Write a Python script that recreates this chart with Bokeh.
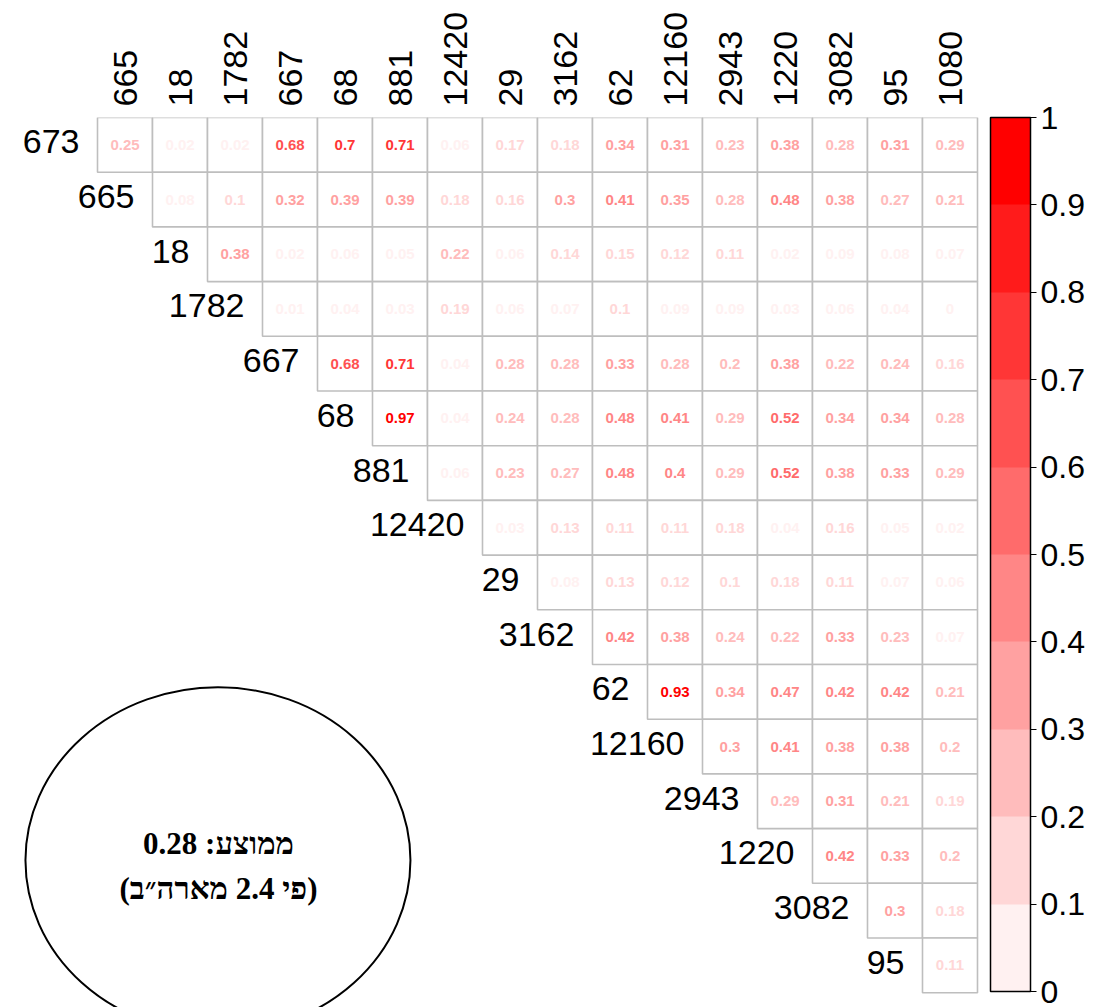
from bokeh.plotting import figure
from bokeh.models import (Range1d, FixedTicker, ColorBar, LinearColorMapper,
                          ColumnDataSource, CustomJSTickFormatter)
from bokeh.core.properties import value
from bokeh.embed import file_html
from bokeh.resources import INLINE

# ---------------- data ----------------
col_labels = ["665", "18", "1782", "667", "68", "881", "12420", "29", "3162",
              "62", "12160", "2943", "1220", "3082", "95", "1080"]
row_labels = ["673", "665", "18", "1782", "667", "68", "881", "12420", "29",
              "3162", "62", "12160", "2943", "1220", "3082", "95"]

r_673 = [0.25, 0.02, 0.02, 0.68, 0.7, 0.71, 0.06, 0.17, 0.18, 0.34, 0.31, 0.23, 0.38, 0.28, 0.31, 0.29]
r_665 = [0.08, 0.1, 0.32, 0.39, 0.39, 0.18, 0.16, 0.3, 0.41, 0.35, 0.28, 0.48, 0.38, 0.27, 0.21]
r_18 = [0.38, 0.02, 0.06, 0.05, 0.22, 0.06, 0.14, 0.15, 0.12, 0.11, 0.02, 0.09, 0.08, 0.07]
r_1782 = [0.01, 0.04, 0.03, 0.19, 0.06, 0.07, 0.1, 0.09, 0.09, 0.03, 0.06, 0.04, 0]
r_667 = [0.68, 0.71, 0.04, 0.28, 0.28, 0.33, 0.28, 0.2, 0.38, 0.22, 0.24, 0.16]
r_68 = [0.97, 0.04, 0.24, 0.28, 0.48, 0.41, 0.29, 0.52, 0.34, 0.34, 0.28]
r_881 = [0.06, 0.23, 0.27, 0.48, 0.4, 0.29, 0.52, 0.38, 0.33, 0.29]
r_12420 = [0.03, 0.13, 0.11, 0.11, 0.18, 0.04, 0.16, 0.05, 0.02]
r_29 = [0.08, 0.13, 0.12, 0.1, 0.18, 0.11, 0.07, 0.06]
r_3162 = [0.42, 0.38, 0.24, 0.22, 0.33, 0.23, 0.07]
r_62 = [0.93, 0.34, 0.47, 0.42, 0.42, 0.21]
r_12160 = [0.3, 0.41, 0.38, 0.38, 0.2]
r_2943 = [0.29, 0.31, 0.21, 0.19]
r_1220 = [0.42, 0.33, 0.2]
r_3082 = [0.3, 0.18]
r_95 = [0.11]

row_values = [r_673, r_665, r_18, r_1782, r_667, r_68, r_881, r_12420, r_29,
              r_3162, r_62, r_12160, r_2943, r_1220, r_3082, r_95]

cbar_ticks = [0, 0.1, 0.2, 0.3, 0.4, 0.5, 0.6, 0.7, 0.8, 0.9, 1]
palette = ["#FFF1F1", "#FFD7D7", "#FFBCBC", "#FFA1A1", "#FF8686",
           "#FF6B6B", "#FF5151", "#FF3636", "#FF1B1B", "#FF0000"]

note_lines = ["ממוצע: 0.28", "(פי 2.4 מארה״ב)"]

# ---------------- layout ----------------
W, H = 1094, 1007
TOP = 117
CELL_W, CELL_H = 55.0, 54.7
X0 = 97  # px of first column inside the frame
x_start = -X0 / CELL_W
x_end = x_start + W / CELL_W
y_bottom = (H - TOP) / CELL_H

p = figure(width=W, height=H, x_range=Range1d(x_start, x_end),
           y_range=Range1d(y_bottom, 0), output_backend="svg",
           toolbar_location=None, x_axis_location="above",
           y_axis_location=None, min_border_left=0, min_border_right=0,
           min_border_bottom=0, min_border_top=TOP)
p.grid.visible = False
p.outline_line_color = None
p.background_fill_color = "white"
p.border_fill_color = "white"

font = "Liberation Sans"

# cells
lefts, rights, tops, bottoms, xs, ys, txt, tcol = [], [], [], [], [], [], [], []
for i, vals in enumerate(row_values):
    for k, v in enumerate(vals):
        j = i + k
        lefts.append(j); rights.append(j + 1)
        tops.append(i); bottoms.append(i + 1)
        xs.append(j + 0.5); ys.append(i + 0.5)
        txt.append(f"{v:g}")
        b = min(int(v * 10 + 1e-9), 9)
        tcol.append(palette[b])

src = ColumnDataSource(dict(left=lefts, right=rights, top=tops, bottom=bottoms,
                            x=xs, y=ys, text=txt, color=tcol))
p.quad(left="left", right="right", top="top", bottom="bottom", source=src,
       fill_color="white", line_color="#BEBEBE", line_width=1.6)
p.text(x="x", y="y", text="text", source=src, text_color="color",
       text_font=value(font), text_font_style="bold", text_font_size="15px",
       text_align="center", text_baseline="middle")

# row labels on the diagonal
rl_src = ColumnDataSource(dict(x=list(range(len(row_labels))),
                               y=[i + 0.5 for i in range(len(row_labels))],
                               text=row_labels))
p.text(x="x", y="y", text="text", source=rl_src, text_color="black",
       text_font=value(font), text_font_size="34px", text_align="right",
       text_baseline="middle", x_offset=-18, y_offset=-3)

# column labels: top axis
ax = p.xaxis[0]
ax.ticker = FixedTicker(ticks=[j + 0.5 for j in range(len(col_labels))])
ax.major_label_overrides = {j + 0.5: lab for j, lab in enumerate(col_labels)}
ax.major_label_orientation = "vertical"
ax.major_label_text_font = font
ax.major_label_text_font_size = "34px"
ax.major_label_text_color = "black"
ax.major_label_standoff = 5
ax.axis_line_color = None
ax.major_tick_line_color = None
ax.minor_tick_line_color = None

# color bar
mapper = LinearColorMapper(palette=palette, low=0, high=1)
cb = ColorBar(color_mapper=mapper, ticker=FixedTicker(ticks=cbar_ticks),
              formatter=CustomJSTickFormatter(code="return String(tick)"),
              location=(990, 16), width=40, height=874, padding=0, margin=0,
              orientation="vertical",
              bar_line_color="black", bar_line_width=1.5,
              major_tick_line_color="black", major_tick_out=6, major_tick_in=0,
              minor_tick_line_color=None,
              label_standoff=4, major_label_text_font=font,
              major_label_text_font_size="32px", major_label_text_color="black",
              border_line_color=None, background_fill_color=None)
p.add_layout(cb)

# note ellipse
p.ellipse(x=[2.19], y=[13.58], width=[7.0], height=[6.33], fill_color=None,
          line_color="black", line_width=2)
p.text(x=[2.2, 2.2], y=[13.27, 14.1], text=note_lines, text_color="black",
       text_font=value("Liberation Serif"), text_font_style="bold",
       text_font_size="31px", text_align="center", text_baseline="middle")

open("out.html", "w").write(file_html(p, INLINE))
